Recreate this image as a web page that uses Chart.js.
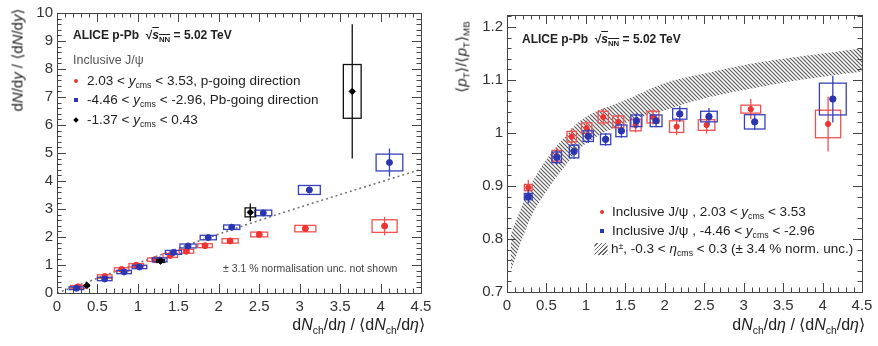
<!DOCTYPE html>
<html>
<head>
<meta charset="utf-8">
<script src="https://cdn.jsdelivr.net/npm/chart.js@4/dist/chart.umd.min.js"></script>
<style>
  body { margin: 0; background: #fff; }
  #wrap { position: relative; width: 878px; height: 346px; font-family: "Liberation Sans", Arial, sans-serif; color: #222; overflow: hidden; }
  canvas { position: absolute; top: 0; }
  .t { position: absolute; white-space: nowrap; line-height: 1; transform: translateY(-50%); }
  .rot { position: absolute; white-space: nowrap; line-height: 1; transform: translate(-50%, -50%) rotate(-90deg); }
  sub { font-size: 65%; vertical-align: -0.35em; line-height: 0; }
  sup { font-size: 65%; vertical-align: 0.45em; line-height: 0; }
  .ov { text-decoration: overline; }
  .mk { position: absolute; transform: translate(-50%, -50%); }
</style>
</head>
<body>
<div id="wrap">
  <canvas id="left" width="440" height="346" style="left:0"></canvas>
  <canvas id="right" width="438" height="346" style="left:440px"></canvas>

  <!-- left panel texts -->
  <div class="t" style="left:73px;top:35px;font-size:12px;font-weight:bold">ALICE p-Pb&nbsp; √<span class="ov"><i>s</i><sub>NN</sub></span> = 5.02 TeV</div>
  <div class="t" style="left:73px;top:60px;font-size:12.5px;color:#555">Inclusive J/ψ</div>
  <div class="mk" style="left:76px;top:81px;width:4px;height:4px;border-radius:50%;background:#ee3333"></div>
  <div class="t" style="left:87px;top:81px;font-size:13.5px">2.03 &lt; <i>y</i><sub>cms</sub> &lt; 3.53, p-going direction</div>
  <div class="mk" style="left:76px;top:100px;width:4px;height:4px;background:#2a35b0"></div>
  <div class="t" style="left:87px;top:100px;font-size:13.5px">-4.46 &lt; <i>y</i><sub>cms</sub> &lt; -2.96, Pb-going direction</div>
  <div class="mk" style="left:76px;top:120px;width:4px;height:4px;background:#000;transform:translate(-50%,-50%) rotate(45deg)"></div>
  <div class="t" style="left:87px;top:120px;font-size:13.5px">-1.37 &lt; <i>y</i><sub>cms</sub> &lt; 0.43</div>
  <div class="t" style="left:223px;top:268px;font-size:10.5px;color:#444">± 3.1 % normalisation unc. not shown</div>
  <div class="t" style="right:453px;top:325px;font-size:16px">d<i>N</i><sub>ch</sub>/d<i>η</i> / ⟨d<i>N</i><sub>ch</sub>/d<i>η</i>⟩</div>
  <div class="rot" style="left:17px;top:60px;font-size:15px">d<i>N</i>/d<i>y</i> / ⟨d<i>N</i>/d<i>y</i>⟩</div>

  <!-- right panel texts -->
  <div class="t" style="left:522px;top:39px;font-size:12px;font-weight:bold">ALICE p-Pb&nbsp; √<span class="ov"><i>s</i><sub>NN</sub></span> = 5.02 TeV</div>
  <div class="mk" style="left:602px;top:212px;width:4px;height:4px;border-radius:50%;background:#ee3333"></div>
  <div class="t" style="left:612px;top:212px;font-size:13.5px">Inclusive J/ψ , 2.03 &lt; <i>y</i><sub>cms</sub> &lt; 3.53</div>
  <div class="mk" style="left:602px;top:231px;width:4px;height:4px;background:#2a35b0"></div>
  <div class="t" style="left:612px;top:231px;font-size:13.5px">Inclusive J/ψ , -4.46 &lt; <i>y</i><sub>cms</sub> &lt; -2.96</div>
  <div class="mk" style="left:601px;top:249px;width:13px;height:12px;background:repeating-linear-gradient(-45deg,#666 0 1px,#fff 1px 3px)"></div>
  <div class="t" style="left:611px;top:249px;font-size:13.5px">h<sup>±</sup>, -0.3 &lt; <i>η</i><sub>cms</sub> &lt; 0.3 (± 3.4 % norm. unc.)</div>
  <div class="t" style="right:13px;top:325px;font-size:16px">d<i>N</i><sub>ch</sub>/d<i>η</i> / ⟨d<i>N</i><sub>ch</sub>/d<i>η</i>⟩</div>
  <div class="rot" style="left:461px;top:57px;font-size:15px">⟨<i>p</i><sub>T</sub>⟩/⟨<i>p</i><sub>T</sub>⟩<sub>MB</sub></div>
</div>

<script>
// ---- left panel: relative yield vs multiplicity ----
const leftRedX = [0.26, 0.59, 0.80, 0.98, 1.21, 1.40, 1.60, 1.83, 2.14, 2.50, 3.07, 4.05];
const leftRedY = [0.22, 0.59, 0.84, 0.99, 1.19, 1.34, 1.49, 1.69, 1.86, 2.09, 2.30, 2.39];
const leftRedStat = [0.04, 0.04, 0.04, 0.04, 0.04, 0.04, 0.04, 0.05, 0.05, 0.06, 0.09, 0.33];
const leftRedSysX = [0.09, 0.09, 0.09, 0.09, 0.09, 0.09, 0.09, 0.09, 0.1, 0.105, 0.13, 0.155];
const leftRedSysY = [0.05, 0.06, 0.06, 0.06, 0.06, 0.07, 0.07, 0.07, 0.08, 0.085, 0.115, 0.225];

const leftBlueX = [0.24, 0.59, 0.83, 1.02, 1.27, 1.44, 1.62, 1.87, 2.16, 2.55, 3.12, 4.11];
const leftBlueY = [0.17, 0.50, 0.75, 0.93, 1.18, 1.45, 1.68, 1.98, 2.35, 2.86, 3.68, 4.66];
const leftBlueStat = [0.04, 0.04, 0.04, 0.04, 0.04, 0.04, 0.05, 0.05, 0.06, 0.08, 0.12, 0.5];
const leftBlueSysX = [0.09, 0.09, 0.09, 0.09, 0.09, 0.1, 0.1, 0.1, 0.1, 0.105, 0.135, 0.165];
const leftBlueSysY = [0.05, 0.06, 0.06, 0.06, 0.07, 0.07, 0.07, 0.08, 0.08, 0.1, 0.16, 0.3];

const leftBlackX = [0.37, 1.28, 2.39, 3.65];
const leftBlackY = [0.27, 1.14, 2.88, 7.2];
const leftBlackStat = [0.07, 0.07, 0.32, 2.4];
const leftBlackSysX = [0.03, 0.05, 0.065, 0.11];
const leftBlackSysY = [0.03, 0.05, 0.16, 0.96];

const fitX = [0, 2.2, 4.5];
const fitY = [0, 2.3, 4.42];

const leftXTicks = [0, 0.5, 1, 1.5, 2, 2.5, 3, 3.5, 4, 4.5];
const leftYTicks = [0, 1, 2, 3, 4, 5, 6, 7, 8, 9, 10];

// ---- right panel: mean pT ratio vs multiplicity ----
const rightRedX = [0.27, 0.63, 0.82, 1.01, 1.22, 1.41, 1.63, 1.85, 2.15, 2.53, 3.09, 4.07];
const rightRedY = [0.897, 0.957, 0.993, 1.009, 1.030, 1.021, 1.015, 1.030, 1.012, 1.015, 1.045, 1.017];
const rightRedStat = [0.015, 0.015, 0.016, 0.014, 0.016, 0.014, 0.014, 0.014, 0.016, 0.016, 0.019, 0.052];
const rightRedSysX = [0.05, 0.06, 0.06, 0.065, 0.065, 0.07, 0.07, 0.075, 0.09, 0.105, 0.125, 0.16];
const rightRedSysY = [0.006, 0.01, 0.01, 0.01, 0.011, 0.011, 0.011, 0.011, 0.011, 0.01, 0.0075, 0.026];

const rightBlueX = [0.27, 0.63, 0.85, 1.03, 1.25, 1.45, 1.64, 1.89, 2.19, 2.56, 3.14, 4.13];
const rightBlueY = [0.880, 0.954, 0.965, 0.994, 0.988, 1.004, 1.023, 1.023, 1.036, 1.031, 1.021, 1.064];
const rightBlueStat = [0.013, 0.014, 0.014, 0.013, 0.012, 0.013, 0.014, 0.012, 0.015, 0.016, 0.015, 0.044];
const rightBlueSysX = [0.05, 0.06, 0.06, 0.065, 0.065, 0.07, 0.07, 0.075, 0.09, 0.105, 0.13, 0.17];
const rightBlueSysY = [0.006, 0.01, 0.012, 0.01, 0.01, 0.011, 0.011, 0.011, 0.01, 0.01, 0.0135, 0.03];

const bandX = [0.05, 0.3, 0.5, 0.75, 1.0, 1.5, 2.0, 2.5, 3.0, 3.5, 4.0, 4.5];
const bandHigh = [0.81, 0.90, 0.95, 0.995, 1.03, 1.062, 1.094, 1.112, 1.128, 1.14, 1.15, 1.16];
const bandLow = [0.74, 0.84, 0.89, 0.94, 0.98, 1.019, 1.043, 1.065, 1.081, 1.095, 1.106, 1.116];

const rightXTicks = [0, 0.5, 1, 1.5, 2, 2.5, 3, 3.5, 4, 4.5];
const rightYTicks = [0.7, 0.8, 0.9, 1.0, 1.1, 1.2];

const RED = 'rgb(238, 51, 51)';
const RED_BOX = 'rgb(242, 80, 80)';
const BLUE = 'rgb(42, 53, 176)';
const BLUE_BOX = 'rgb(55, 65, 190)';
const TICK_FONT = { family: '"Liberation Sans", Arial, sans-serif', size: 15 };

function pts(xs, ys) {
  return xs.map((x, i) => ({ x: x, y: ys[i] }));
}

// diagonal hatching for the h± band
function hatch() {
  const c = document.createElement('canvas');
  c.width = 4; c.height = 4;
  const g = c.getContext('2d');
  g.strokeStyle = '#5e5e5e';
  g.lineWidth = 1.2;
  g.beginPath();
  g.moveTo(-1, -1); g.lineTo(5, 5);
  g.moveTo(-1, 3); g.lineTo(1, 5);
  g.moveTo(3, -1); g.lineTo(5, 1);
  g.stroke();
  return g.createPattern(c, 'repeat');
}

// systematic boxes + statistical bars, drawn right before each dataset's markers
const errorBoxes = {
  id: 'errorBoxes',
  beforeDatasetDraw(chart, args) {
    const ds = chart.data.datasets[args.index];
    if (!ds.stat) return;
    const { ctx, scales } = chart;
    const xs = scales.x, ys = scales.y;
    ctx.save();
    ctx.beginPath();
    ctx.rect(chart.chartArea.left, chart.chartArea.top, chart.chartArea.right - chart.chartArea.left, chart.chartArea.bottom - chart.chartArea.top);
    ctx.clip();
    ctx.strokeStyle = ds.boxColor;
    ctx.lineWidth = 1.3;
    ds.data.forEach((p, i) => {
      const x0 = xs.getPixelForValue(p.x - ds.sysX[i]);
      const x1 = xs.getPixelForValue(p.x + ds.sysX[i]);
      const y0 = ys.getPixelForValue(p.y + ds.sysY[i]);
      const y1 = ys.getPixelForValue(p.y - ds.sysY[i]);
      ctx.strokeRect(x0, y0, x1 - x0, y1 - y0);
      const cx = xs.getPixelForValue(p.x);
      ctx.beginPath();
      ctx.moveTo(cx, ys.getPixelForValue(p.y + ds.stat[i]));
      ctx.lineTo(cx, ys.getPixelForValue(p.y - ds.stat[i]));
      ctx.stroke();
    });
    ctx.restore();
  }
};

// ROOT-like frame with inward major/minor ticks on all four sides
const frameTicks = {
  id: 'frameTicks',
  afterDraw(chart, args, opts) {
    const { ctx, chartArea: a, scales } = chart;
    ctx.save();
    ctx.strokeStyle = '#444';
    ctx.lineWidth = 1;
    ctx.strokeRect(a.left + 0.5, a.top + 0.5, a.right - a.left, a.bottom - a.top);
    ctx.beginPath();
    const nx = Math.round((scales.x.max - scales.x.min) / opts.xMinor);
    for (let i = 0; i <= nx; i++) {
      const px = Math.round(scales.x.getPixelForValue(scales.x.min + i * opts.xMinor)) + 0.5;
      const len = i % opts.xEvery === 0 ? 9 : 4.5;
      ctx.moveTo(px, a.bottom); ctx.lineTo(px, a.bottom - len);
      ctx.moveTo(px, a.top); ctx.lineTo(px, a.top + len);
    }
    const ny = Math.floor((scales.y.max - scales.y.min) / opts.yMinor + 1e-6);
    for (let i = 0; i <= ny; i++) {
      const py = Math.round(scales.y.getPixelForValue(scales.y.min + i * opts.yMinor)) + 0.5;
      const len = i % opts.yEvery === 0 ? 9 : 4.5;
      ctx.moveTo(a.left, py); ctx.lineTo(a.left + len, py);
      ctx.moveTo(a.right, py); ctx.lineTo(a.right - len, py);
    }
    ctx.stroke();
    ctx.restore();
  }
};

function axes(xTicks, yTicks, yMax, yWidth, xHeight, yFmt) {
  return {
    x: {
      type: 'linear', min: xTicks[0], max: xTicks[xTicks.length - 1],
      afterBuildTicks: s => { s.ticks = xTicks.map(v => ({ value: v })); },
      afterFit: s => { s.height = xHeight; },
      grid: { display: false, drawTicks: false },
      border: { display: false },
      ticks: { color: '#333', font: TICK_FONT, padding: 5, maxRotation: 0, autoSkip: false, callback: v => String(v) }
    },
    y: {
      type: 'linear', min: yTicks[0], max: yMax,
      afterBuildTicks: s => { s.ticks = yTicks.map(v => ({ value: v })); },
      afterFit: s => { s.width = yWidth; },
      grid: { display: false, drawTicks: false },
      border: { display: false },
      ticks: { color: '#333', font: TICK_FONT, padding: 4, autoSkip: false, callback: yFmt }
    }
  };
}

const common = {
  responsive: false,
  animation: false,
  events: [],
  plugins: { legend: { display: false }, tooltip: { enabled: false } }
};

new Chart(document.getElementById('left'), {
  type: 'scatter',
  data: {
    datasets: [
      { data: pts(leftBlackX, leftBlackY), pointStyle: 'rectRot', pointRadius: 3.2, backgroundColor: '#000', borderColor: '#000', boxColor: '#111',
        stat: leftBlackStat, sysX: leftBlackSysX, sysY: leftBlackSysY },
      { data: pts(leftBlueX, leftBlueY), pointRadius: 3, backgroundColor: BLUE, borderColor: BLUE, boxColor: BLUE_BOX,
        stat: leftBlueStat, sysX: leftBlueSysX, sysY: leftBlueSysY },
      { data: pts(leftRedX, leftRedY), pointRadius: 3, backgroundColor: RED, borderColor: RED, boxColor: RED_BOX,
        stat: leftRedStat, sysX: leftRedSysX, sysY: leftRedSysY },
      { type: 'line', data: pts(fitX, fitY), borderColor: '#777', borderDash: [2, 3], borderWidth: 1.6,
        pointRadius: 0, fill: false, tension: 0.4 }
    ]
  },
  options: Object.assign({}, common, {
    layout: { padding: { top: 12, right: 19, left: 0, bottom: 0 } },
    scales: axes(leftXTicks, leftYTicks, 10, 57, 53, v => String(v)),
    plugins: Object.assign({}, common.plugins, { frameTicks: { xMinor: 0.1, xEvery: 5, yMinor: 0.2, yEvery: 5 } })
  }),
  plugins: [errorBoxes, frameTicks]
});

new Chart(document.getElementById('right'), {
  type: 'scatter',
  data: {
    datasets: [
      { data: pts(rightBlueX, rightBlueY), pointRadius: 3.2, backgroundColor: BLUE, borderColor: BLUE, boxColor: BLUE_BOX,
        stat: rightBlueStat, sysX: rightBlueSysX, sysY: rightBlueSysY },
      { data: pts(rightRedX, rightRedY), pointRadius: 2.6, backgroundColor: RED, borderColor: RED, boxColor: RED_BOX,
        stat: rightRedStat, sysX: rightRedSysX, sysY: rightRedSysY },
      { type: 'line', data: pts(bandX, bandHigh), borderColor: 'transparent', borderWidth: 0, pointRadius: 0,
        fill: '+1', backgroundColor: hatch(), tension: 0.4 },
      { type: 'line', data: pts(bandX, bandLow), borderColor: 'transparent', borderWidth: 0, pointRadius: 0,
        fill: false, tension: 0.4 }
    ]
  },
  options: Object.assign({}, common, {
    layout: { padding: { top: 15, right: 16, left: 0, bottom: 0 } },
    scales: axes(rightXTicks, rightYTicks, 1.2226, 67, 54, v => String(+v.toFixed(1))),
    plugins: Object.assign({}, common.plugins, { frameTicks: { xMinor: 0.1, xEvery: 5, yMinor: 0.02, yEvery: 5 } })
  }),
  plugins: [errorBoxes, frameTicks]
});
</script>
</body>
</html>
